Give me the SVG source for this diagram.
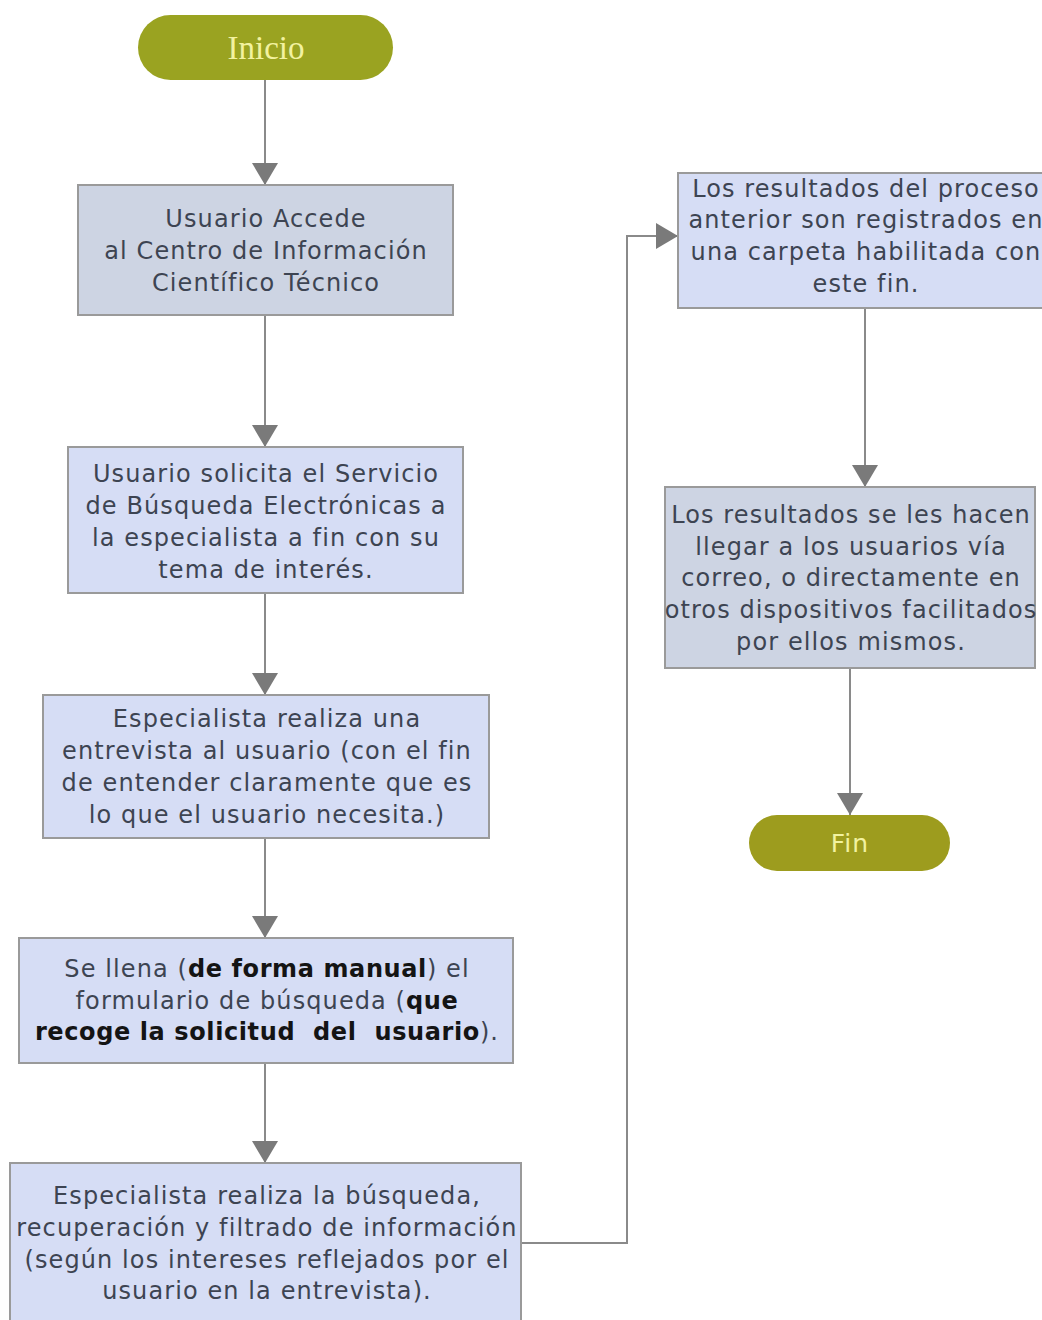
<svg xmlns="http://www.w3.org/2000/svg" width="1042" height="1320" viewBox="0 0 1042 1320">
<defs>
<style>
.box{stroke:#9a9a9a;stroke-width:2}
.b1{fill:#cdd4e3}
.b2{fill:#d6ddf5}
.t{font-family:"DejaVu Sans","Liberation Sans",sans-serif;font-size:24px;letter-spacing:1.1px;fill:#3d4452;text-anchor:middle}
.bold{font-weight:bold;fill:#141414;letter-spacing:0.6px}
.term{fill:#9aa321}
.tt{fill:#f2f2a0;text-anchor:middle}
.c{fill:none;stroke:#8a8a8a;stroke-width:2}
</style>
<marker id="ah" viewBox="0 0 22 26" refX="22" refY="13" markerWidth="22" markerHeight="26" markerUnits="userSpaceOnUse" orient="auto">
<path d="M0,0 L22,13 L0,26 Z" fill="#7a7a7a"/>
</marker>
</defs>
<rect width="1042" height="1320" fill="#ffffff"/>
<g id="connectors">
<line class="c" x1="265" y1="80" x2="265" y2="185" marker-end="url(#ah)"/>
<line class="c" x1="265" y1="315" x2="265" y2="447" marker-end="url(#ah)"/>
<line class="c" x1="265" y1="593" x2="265" y2="695" marker-end="url(#ah)"/>
<line class="c" x1="265" y1="838" x2="265" y2="938" marker-end="url(#ah)"/>
<line class="c" x1="265" y1="1063" x2="265" y2="1163" marker-end="url(#ah)"/>
<polyline class="c" points="521,1243 627,1243 627,236 678,236" marker-end="url(#ah)"/>
<line class="c" x1="865" y1="308" x2="865" y2="487" marker-end="url(#ah)"/>
<line class="c" x1="850" y1="668" x2="850" y2="815" marker-end="url(#ah)"/>
</g>
<g id="inicio">
<rect class="term" x="138" y="15" width="255" height="65" rx="32.5"/>
<text class="tt" x="266" y="59" font-family="Liberation Serif,serif" font-size="33">Inicio</text>
</g>
<g id="n1">
<rect class="box b1" x="78" y="185" width="375" height="130"/>
<text class="t" x="266" y="227">Usuario Accede</text>
<text class="t" x="266" y="259">al Centro de Información</text>
<text class="t" x="266" y="291">Científico Técnico</text>
</g>
<g id="n2">
<rect class="box b2" x="68" y="447" width="395" height="146"/>
<text class="t" x="266" y="482">Usuario solicita el Servicio</text>
<text class="t" x="266" y="514">de Búsqueda Electrónicas a</text>
<text class="t" x="266" y="546">la especialista a fin con su</text>
<text class="t" x="266" y="578">tema de interés.</text>
</g>
<g id="n3">
<rect class="box b2" x="43" y="695" width="446" height="143"/>
<text class="t" x="267" y="727">Especialista realiza una</text>
<text class="t" x="267" y="759">entrevista al usuario (con el fin</text>
<text class="t" x="267" y="791">de entender claramente que es</text>
<text class="t" x="267" y="823">lo que el usuario necesita.)</text>
</g>
<g id="n4">
<rect class="box b2" x="19" y="938" width="494" height="125"/>
<text class="t" x="267" y="977" style="white-space:pre">Se llena (<tspan class="bold">de forma manual</tspan>) el</text>
<text class="t" x="267" y="1009" style="white-space:pre">formulario de búsqueda (<tspan class="bold">que</tspan></text>
<text class="t" x="267" y="1040" style="white-space:pre"><tspan class="bold">recoge la solicitud  del  usuario</tspan>).</text>
</g>
<g id="n5">
<rect class="box b2" x="10" y="1163" width="511" height="170"/>
<text class="t" x="267" y="1204">Especialista realiza la búsqueda,</text>
<text class="t" x="267" y="1236">recuperación y filtrado de información</text>
<text class="t" x="267" y="1268">(según los intereses reflejados por el</text>
<text class="t" x="267" y="1299">usuario en la entrevista).</text>
</g>
<g id="n6">
<rect class="box b2" x="678" y="173" width="374" height="135"/>
<text class="t" x="866" y="197">Los resultados del proceso</text>
<text class="t" x="866" y="228">anterior son registrados en</text>
<text class="t" x="866" y="260">una carpeta habilitada con</text>
<text class="t" x="866" y="292">este fin.</text>
</g>
<g id="n7">
<rect class="box b1" x="665" y="487" width="370" height="181"/>
<text class="t" x="851" y="523">Los resultados se les hacen</text>
<text class="t" x="851" y="555">llegar a los usuarios vía</text>
<text class="t" x="851" y="586">correo, o directamente en</text>
<text class="t" x="851" y="618">otros dispositivos facilitados</text>
<text class="t" x="851" y="650">por ellos mismos.</text>
</g>
<g id="fin">
<rect x="749" y="815" width="201" height="56" rx="28" fill="#9d9c1e"/>
<text class="tt" x="850" y="852" font-family="DejaVu Sans,sans-serif" font-size="25" letter-spacing="1">Fin</text>
</g>
</svg>
